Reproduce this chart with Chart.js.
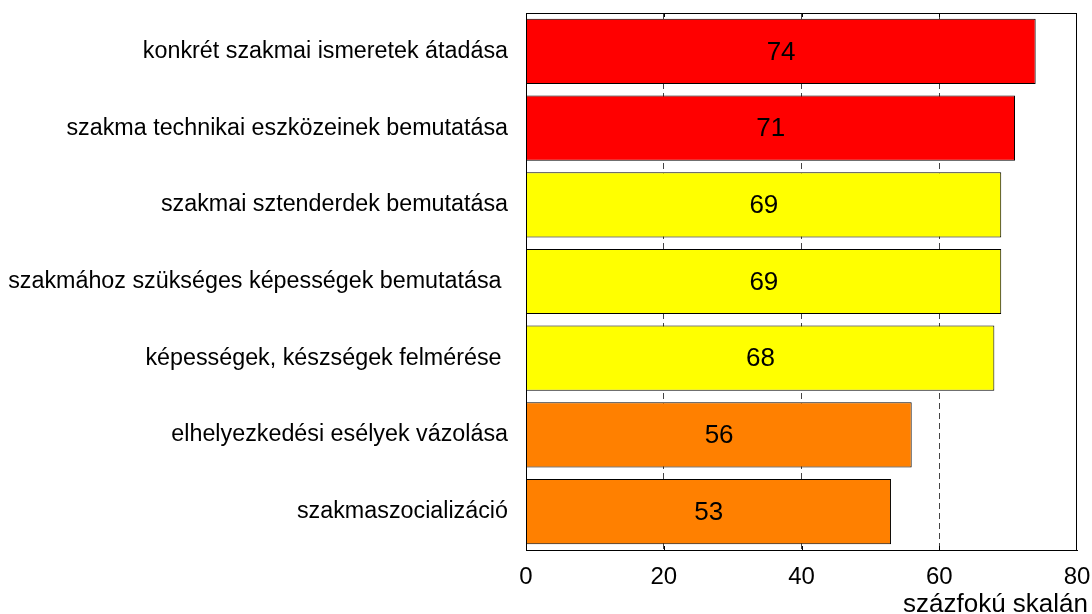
<!DOCTYPE html>
<html>
<head>
<meta charset="utf-8">
<script src="https://cdn.jsdelivr.net/npm/chart.js@4"></script>
<style>
  html, body { margin: 0; padding: 0; background: #fff; }
  #wrap { width: 1092px; height: 614px; }
</style>
</head>
<body>
<div id="wrap"><canvas id="c" width="1092" height="614"></canvas></div>
<script>
const categories = [
  'konkrét szakmai ismeretek átadása',
  'szakma technikai eszközeinek bemutatása',
  'szakmai sztenderdek bemutatása',
  'szakmához szükséges képességek bemutatása ',
  'képességek, készségek felmérése ',
  'elhelyezkedési esélyek vázolása',
  'szakmaszocializáció'
];
const values = [74, 71, 69, 69, 68, 56, 53];
const barColors = ['#FF0000', '#FF0000', '#FFFF00', '#FFFF00', '#FFFF00', '#FF8000', '#FF8000'];
const xTickValues = [0, 20, 40, 60, 80];
const axisTitle = 'százfokú skalán';

const FONT = '"Liberation Sans", Arial, sans-serif';

const framePlugin = {
  id: 'frame',
  afterDatasetsDraw(chart) {
    const { ctx, chartArea: a, scales } = chart;
    const x = scales.x;
    ctx.save();
    ctx.strokeStyle = '#000';
    ctx.lineWidth = 1;
    ctx.strokeRect(Math.round(a.left) + 0.5, Math.round(a.top) + 0.5,
                   Math.round(a.right - a.left) - 1, Math.round(a.bottom - a.top));
    ctx.beginPath();
    xTickValues.forEach(v => {
      if (v === 0 || v === 80) return;
      const px = Math.round(x.getPixelForValue(v)) + 0.5;
      ctx.moveTo(px, a.top); ctx.lineTo(px, a.top + 4);
      ctx.moveTo(px, a.bottom); ctx.lineTo(px, a.bottom - 4);
    });
    ctx.stroke();
    // value labels
    ctx.fillStyle = '#000';
    ctx.font = '26px ' + FONT;
    ctx.textAlign = 'center';
    ctx.textBaseline = 'middle';
    chart.getDatasetMeta(0).data.forEach((bar, i) => {
      ctx.fillText(String(values[i]), (bar.x + bar.base) / 2, bar.y + 1);
    });
    // axis title
    ctx.font = '26px ' + FONT;
    ctx.textAlign = 'right';
    ctx.textBaseline = 'alphabetic';
    ctx.fillText(axisTitle, chart.width - 4, 612);
    ctx.restore();
  }
};

new Chart(document.getElementById('c'), {
  type: 'bar',
  data: {
    labels: categories,
    datasets: [{
      data: values,
      backgroundColor: barColors,
      borderColor: '#000',
      borderWidth: 1,
      barPercentage: 0.85,
      categoryPercentage: 1.0
    }]
  },
  options: {
    indexAxis: 'y',
    responsive: false,
    animation: false,
    devicePixelRatio: 1,
    layout: { padding: { top: 13, right: 15, left: 0, bottom: 0 } },
    plugins: { legend: { display: false }, tooltip: { enabled: false } },
    scales: {
      x: {
        min: 0, max: 80,
        afterFit(s) { s.height = 64; s.paddingLeft = 0; s.paddingRight = 0; s.paddingTop = 0; s.paddingBottom = 0; },
        afterBuildTicks(s) { s.ticks = xTickValues.map(v => ({ value: v })); },
        ticks: { font: { family: FONT, size: 24 }, color: '#000', padding: 13, maxRotation: 0 },
        grid: {
          drawTicks: false,
          color: c => (c.tick && (c.tick.value === 0 || c.tick.value === 80)) ? 'rgba(0,0,0,0)' : '#444',
          lineWidth: 1
        },
        border: { display: true, color: '#000', dash: [6, 4] }
      },
      y: {
        afterFit(s) { s.width = 526; s.paddingLeft = 0; s.paddingRight = 0; s.paddingTop = 0; s.paddingBottom = 0; },
        ticks: { font: { family: FONT, size: 23.3 }, color: '#000', padding: 18 },
        grid: { display: false, drawTicks: false },
        border: { display: false }
      }
    }
  },
  plugins: [framePlugin]
});
</script>
</body>
</html>
